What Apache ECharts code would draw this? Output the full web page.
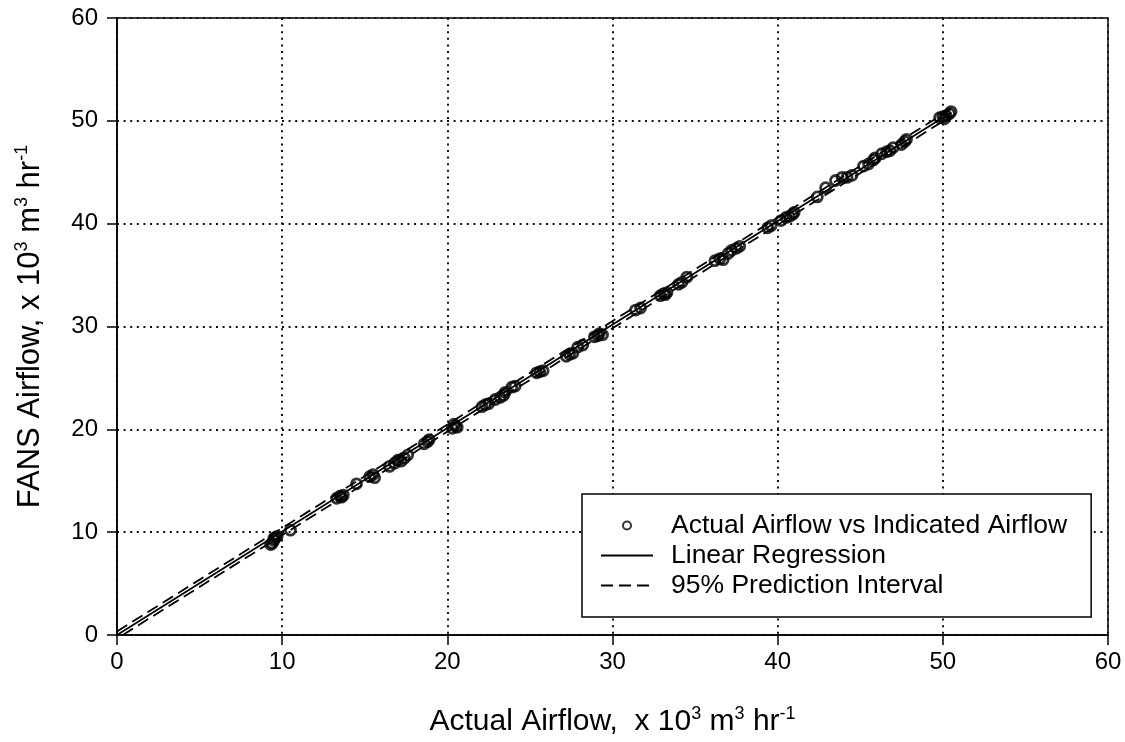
<!DOCTYPE html>
<html>
<head>
<meta charset="utf-8">
<script src="https://cdn.jsdelivr.net/npm/echarts@6/dist/echarts.min.js"></script>
<style>
html,body{margin:0;padding:0;background:#fff;}
#chart{width:1125px;height:742px;}
</style>
</head>
<body>
<div id="chart"></div>
<script>
// Measured points: Actual airflow (x) vs FANS airflow (y), x 10^3 m^3/hr
const actualX = [
  9.3, 9.4, 9.5, 9.6, 9.5, 9.7, 10.5,
  13.3, 13.5, 13.7, 13.6, 14.5,
  15.3, 15.5, 15.6,
  16.5, 16.8, 17.0, 17.2, 17.6, 17.4,
  18.6, 18.8, 18.9,
  20.3, 20.5, 20.4, 20.6,
  22.1, 22.3, 22.5,
  22.9, 23.2, 23.4, 23.5,
  23.9, 24.1,
  25.4, 25.6, 25.8,
  27.2, 27.4, 27.6,
  27.9, 28.2,
  28.9, 29.1, 29.2, 29.4,
  31.4, 31.7,
  32.9, 33.1, 33.3, 33.2,
  34.0, 34.2, 34.5,
  36.2, 36.5, 36.7,
  37.0, 37.2, 37.5, 37.7,
  39.4, 39.6,
  40.2, 40.5, 40.7, 40.9, 41.0,
  42.4, 42.9,
  43.5, 43.9, 44.2, 44.5,
  45.2, 45.5, 45.8, 45.9,
  46.3, 46.6, 47.0, 46.8,
  47.5, 47.7, 47.8,
  49.8, 50.0, 50.2, 50.4, 50.5, 50.1
];
const fansY = [
  8.8, 8.9, 9.2, 9.5, 9.4, 9.6, 10.2,
  13.3, 13.5, 13.6, 13.4, 14.7,
  15.4, 15.6, 15.3,
  16.4, 16.7, 17.0, 16.9, 17.5, 17.2,
  18.6, 18.8, 19.0,
  20.1, 20.3, 20.5, 20.2,
  22.2, 22.4, 22.5,
  22.9, 23.1, 23.3, 23.6,
  24.1, 24.2,
  25.5, 25.6, 25.7,
  27.1, 27.3, 27.4,
  28.0, 28.2,
  29.0, 29.1, 29.3, 29.2,
  31.6, 31.8,
  33.0, 33.2, 33.3, 33.1,
  34.1, 34.3, 34.8,
  36.4, 36.6, 36.5,
  37.1, 37.4, 37.6, 37.8,
  39.6, 39.8,
  40.3, 40.6, 40.7, 40.9, 41.1,
  42.6, 43.5,
  44.2, 44.5, 44.5, 44.7,
  45.6, 45.8, 46.2, 46.4,
  46.8, 47.0, 47.4, 47.1,
  47.7, 48.0, 48.2,
  50.3, 50.4, 50.5, 50.7, 50.9, 50.2
];
// Regression line and 95% prediction interval end points
const regX = [0, 50.5];
const regY = [0, 50.8];
const upperX = [0, 50.5];
const upperY = [0.35, 51.15];
const lowerX = [0.35, 50.5];
const lowerY = [0, 50.45];
const xTicks = [0, 10, 20, 30, 40, 50, 60];
const yTicks = [0, 10, 20, 30, 40, 50, 60];
const seriesNames = ['Actual Airflow vs Indicated Airflow', 'Linear Regression', '95% Prediction Interval'];

const FONT = '"Liberation Sans", Arial, Helvetica, sans-serif';
const zip = (a, b) => a.map((v, i) => [v, b[i]]);

const chart = echarts.init(document.getElementById('chart'), null, {renderer: 'canvas'});
const axisCommon = {
  min: 0, max: 60, interval: 10,
  axisLine: {show: true, onZero: false, lineStyle: {color: '#000', width: 1.5}},
  axisTick: {show: true, inside: false, length: 10, lineStyle: {color: '#000', width: 1.5}},
  splitLine: {show: true, lineStyle: {color: '#111', width: 2, type: [2, 4.6]}},
  nameLocation: 'middle',
  nameTextStyle: {
    fontFamily: FONT, fontSize: 30, color: '#000', lineHeight: 34,
    rich: {s: {fontFamily: FONT, fontSize: 18, color: '#000', verticalAlign: 'top'}}
  }
};
chart.setOption({
  backgroundColor: '#fff',
  animation: false,
  grid: {left: 117, right: 17, top: 18, bottom: 107, containLabel: false, outerBoundsMode: 'none',
    show: true, borderColor: '#000', borderWidth: 1.5, backgroundColor: 'transparent'},
  xAxis: Object.assign({}, axisCommon, {
    type: 'value',
    name: 'Actual Airflow,  x 10{s|3} m{s|3} hr{s|-1}',
    nameGap: 70,
    axisLabel: {fontFamily: FONT, fontSize: 24, color: '#000', margin: 15,
      formatter: v => xTicks.includes(v) ? String(v) : ''}
  }),
  yAxis: Object.assign({}, axisCommon, {
    type: 'value',
    name: 'FANS Airflow, x 10{s|3} m{s|3} hr{s|-1}',
    nameRotate: 90,
    nameGap: 70,
    nameTextStyle: {
      fontFamily: FONT, fontSize: 31, color: '#000', lineHeight: 34,
      rich: {s: {fontFamily: FONT, fontSize: 18, color: '#000', verticalAlign: 'top'}}
    },
    axisLabel: {fontFamily: FONT, fontSize: 24, color: '#000', margin: 19,
      formatter: v => yTicks.includes(v) ? String(v) : ''}
  }),
  legend: {
    orient: 'vertical',
    left: 582, top: 494,
    padding: [18, 24, 18, 18],
    itemGap: 3,
    itemWidth: 52, itemHeight: 8,
    borderColor: '#000', borderWidth: 1.5,
    backgroundColor: '#fff',
    textStyle: {fontFamily: FONT, fontSize: 26.5, color: '#000', padding: [0, 0, 0, 13]},
    data: [
      {name: seriesNames[0], icon: 'circle', itemStyle: {color: 'transparent', borderColor: '#000', borderWidth: 2}},
      {name: seriesNames[1], itemStyle: {opacity: 0}},
      {name: seriesNames[2], itemStyle: {opacity: 0}}
    ]
  },
  series: [
    {
      name: seriesNames[0], type: 'scatter', z: 3,
      symbol: 'circle', symbolSize: 10,
      itemStyle: {color: 'transparent', borderColor: '#000', borderWidth: 2.8},
      data: zip(actualX, fansY)
    },
    {
      name: seriesNames[1], type: 'line', showSymbol: false, symbol: 'none',
      itemStyle: {color: '#000'},
      lineStyle: {color: '#000', width: 1.8},
      data: zip(regX, regY)
    },
    {
      name: seriesNames[2], type: 'line', showSymbol: false, symbol: 'none',
      itemStyle: {color: '#000'},
      lineStyle: {color: '#000', width: 1.8, type: [12, 6]},
      data: zip(upperX, upperY)
    },
    {
      name: seriesNames[2], type: 'line', showSymbol: false, symbol: 'none',
      itemStyle: {color: '#000'},
      lineStyle: {color: '#000', width: 1.8, type: [12, 6]},
      data: zip(lowerX, lowerY)
    }
  ]
});
</script>
</body>
</html>
